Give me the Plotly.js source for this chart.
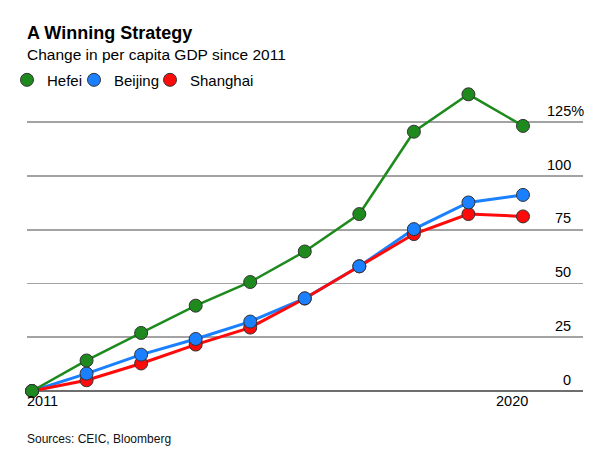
<!DOCTYPE html>
<html>
<head>
<meta charset="utf-8">
<script src="https://cdn.plot.ly/plotly-3.0.1.min.js"></script>
<style>html,body{margin:0;padding:0;background:#fff;}#chart{width:611px;height:465px;}</style>
</head>
<body>
<div id="chart"></div>
<script>
// ---- data ----
const years = [2011, 2012, 2013, 2014, 2015, 2016, 2017, 2018, 2019, 2020];
const hefei = [0, 14.2, 27.0, 39.7, 50.7, 64.9, 82.3, 120.6, 138.0, 123.3];
const beijing = [0, 8.1, 16.9, 24.2, 32.3, 43.1, 58.0, 75.3, 87.7, 91.2];
const shanghai = [0, 5.0, 12.8, 21.6, 29.5, 43.0, 58.0, 73.0, 82.3, 81.2];
const seriesNames = ['Hefei', 'Beijing', 'Shanghai'];
const yTickVals = [0, 25, 50, 75, 100, 125];
const yTickText = ['0', '25', '50', '75', '100', '125%'];
const xTickVals = [2011, 2020];
const xTickText = ['2011', '2020'];

const FONT = 'Liberation Sans, Arial, Helvetica, sans-serif';
const colors = {Hefei: '#1e8a1e', Beijing: '#1a80ff', Shanghai: '#ff0a0a'};
const widths = {Hefei: 2.5, Beijing: 3, Shanghai: 3};
const legendWidths = {Hefei: 22, Beijing: 31, Shanghai: 62};
const dataMap = {Hefei: hefei, Beijing: beijing, Shanghai: shanghai};

const traces = [];
// lines (no legend)
['Beijing', 'Shanghai', 'Hefei'].forEach(n => {
  traces.push({
    x: years, y: dataMap[n], type: 'scatter', mode: 'lines', name: n,
    legendgroup: n, showlegend: false, hoverinfo: 'skip', cliponaxis: false,
    line: {color: colors[n], width: widths[n]}
  });
});
// markers (legend), drawn red, blue, green so green is on top
['Shanghai', 'Beijing', 'Hefei'].forEach(n => {
  traces.push({
    x: years, y: dataMap[n], type: 'scatter', mode: 'markers', name: n,
    legendgroup: n, showlegend: true, cliponaxis: false, legendwidth: legendWidths[n],
    marker: {color: colors[n], size: 13, line: {color: '#333', width: 1}}
  });
});

const annotations = [];
yTickVals.forEach((v, i) => {
  const t = yTickText[i];
  annotations.push({
    xref: 'paper', yref: 'y', x: 1, y: v, text: t, showarrow: false,
    xanchor: 'right', yanchor: 'bottom', xshift: t.endsWith('%') ? 3 : -10, yshift: 1.5,
    font: {family: FONT, size: 14.5, color: '#000'}
  });
});
xTickVals.forEach((v, i) => {
  const first = i === 0;
  annotations.push({
    xref: 'x', yref: 'paper', x: v, y: 0, text: xTickText[i], showarrow: false,
    xanchor: first ? 'left' : 'right', yanchor: 'top', xshift: first ? -7 : 7, yshift: 0,
    font: {family: FONT, size: 14.5, color: '#000'}
  });
});
annotations.push({
  xref: 'paper', yref: 'paper', x: 0, y: 1.1163, xanchor: 'left', yanchor: 'middle',
  text: 'Change in per capita GDP since 2011', showarrow: false, xshift: -2,
  font: {family: FONT, size: 15.5, color: '#000'}
});
annotations.push({
  xref: 'paper', yref: 'paper', x: 0, y: -0.161, xanchor: 'left', yanchor: 'middle',
  text: 'Sources: CEIC, Bloomberg', showarrow: false, xshift: -2,
  font: {family: FONT, size: 12, color: '#111'}
});

const layout = {
  width: 611, height: 465,
  margin: {l: 27, r: 28, t: 90, b: 74, autoexpand: false},
  paper_bgcolor: '#fff', plot_bgcolor: '#fff',
  font: {family: FONT, color: '#000'},
  title: {
    text: '<b>A Winning Strategy</b>', xref: 'paper', x: 0, xanchor: 'left',
    yref: 'container', y: 1 - 33 / 465, yanchor: 'middle',
    font: {family: FONT, size: 18, color: '#000'}
  },
  showlegend: true,
  legend: {
    orientation: 'h', traceorder: 'reversed', xref: 'container', x: 7 / 611, xanchor: 'left',
    yref: 'paper', y: 1.033, yanchor: 'middle', bgcolor: 'rgba(0,0,0,0)', borderwidth: 0,
    font: {family: FONT, size: 15, color: '#000'}, itemwidth: 30,
    itemclick: false, itemdoubleclick: false
  },
  xaxis: {
    range: [2010.908, 2021.1], showgrid: false, zeroline: false, showline: false,
    tickvals: xTickVals, ticktext: xTickText, showticklabels: false, ticks: '', fixedrange: true
  },
  yaxis: {
    range: [0, 140], tickvals: yTickVals, showticklabels: false, ticks: '',
    showgrid: true, gridcolor: '#a3a3a3', gridwidth: 1.6,
    zeroline: true, zerolinecolor: '#6e6e6e', zerolinewidth: 1.6, fixedrange: true
  },
  annotations: annotations,
  hovermode: false
};

Plotly.newPlot('chart', traces, layout, {displayModeBar: false, staticPlot: true});
</script>
</body>
</html>
